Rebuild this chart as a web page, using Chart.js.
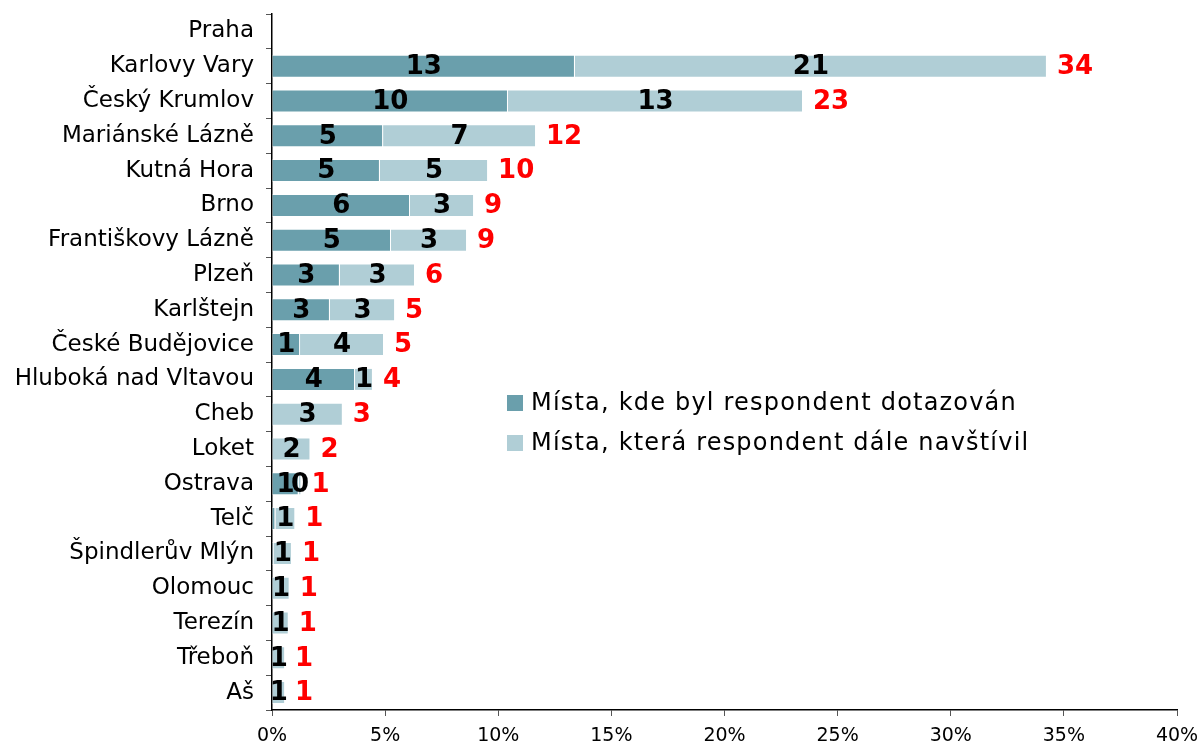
<!DOCTYPE html>
<html>
<head>
<meta charset="utf-8">
<script src="https://cdn.jsdelivr.net/npm/chart.js@4.4.1/dist/chart.umd.min.js"></script>
<style>
  html, body { margin: 0; padding: 0; background: #fff; }
  #wrap { width: 1204px; height: 745px; }
</style>
</head>
<body>
<div id="wrap"><canvas id="myChart"></canvas></div>
<script>
const places = [
  'Praha', 'Karlovy Vary', 'Český Krumlov', 'Mariánské Lázně', 'Kutná Hora',
  'Brno', 'Františkovy Lázně', 'Plzeň', 'Karlštejn', 'České Budějovice',
  'Hluboká nad Vltavou', 'Cheb', 'Loket', 'Ostrava', 'Telč',
  'Špindlerův Mlýn', 'Olomouc', 'Terezín', 'Třeboň', 'Aš'
];
// % of respondents
const surveyed = [0, 13.39, 10.43, 4.91, 4.77, 6.1, 5.26, 3.0, 2.56, 1.24, 3.67, 0, 0, 1.18, 0.15, 0.08, 0, 0, 0, 0];
const visited  = [0, 20.86, 13.04, 6.76, 4.78, 2.83, 3.36, 3.32, 2.88, 3.71, 0.79, 3.13, 1.7, 0.12, 0.88, 0.8, 0.78, 0.74, 0.58, 0.58];
const seriesNames = ['Místa, kde byl respondent dotazován', 'Místa, která respondent dále navštívil'];
const xTickValues = [0, 5, 10, 15, 20, 25, 30, 35, 40];

const FONT = '"DejaVu Sans", Verdana, sans-serif';
const DARK = '#6a9fac';
const LIGHT = '#b0ced6';

document.addEventListener('DOMContentLoaded', () => {
  const ctx = document.getElementById('myChart');

  // numbers inside the bars + red totals
  const barLabels = {
    id: 'barLabels',
    afterDatasetsDraw(chart) {
      const c = chart.ctx;
      const m0 = chart.getDatasetMeta(0), m1 = chart.getDatasetMeta(1);
      c.save();
      c.font = 'bold 26px ' + FONT;
      c.textBaseline = 'middle';
      places.forEach((p, i) => {
        const a = surveyed[i], b = visited[i];
        const e0 = m0.data[i], e1 = m1.data[i];
        c.fillStyle = '#000';
        c.textAlign = 'center';
        if (a >= 0.5) c.fillText(Math.round(a), (e0.base + e0.x) / 2, e0.y + 1);
        if (b > 0) c.fillText(Math.round(b), (e1.base + e1.x) / 2, e1.y + 1);
        if (a + b > 0) {
          c.fillStyle = '#ff0000';
          c.textAlign = 'left';
          c.fillText(Math.round(a + b), e1.x + 10, e1.y + 1);
        }
      });
      c.restore();
    }
  };

  // legend placed inside the plot
  const innerLegend = {
    id: 'innerLegend',
    afterDraw(chart) {
      const c = chart.ctx;
      const x = 507, y0 = 403, step = 40;
      c.save();
      c.font = '24px ' + FONT;
      c.letterSpacing = '1.2px';
      c.textBaseline = 'middle';
      c.textAlign = 'left';
      chart.data.datasets.forEach((ds, i) => {
        const y = y0 + i * step;
        c.fillStyle = ds.backgroundColor;
        c.fillRect(x, y - 8, 16, 16);
        c.fillStyle = '#000';
        c.fillText(ds.label, x + 24, y + 1);
      });
      c.restore();
    }
  };

  const data = {
    labels: places,
    datasets: [
      { label: seriesNames[0], data: surveyed, backgroundColor: DARK },
      { label: seriesNames[1], data: visited, backgroundColor: LIGHT }
    ]
  };

  const config = {
    type: 'bar',
    data: data,
    options: {
      indexAxis: 'y',
      responsive: true,
      maintainAspectRatio: false,
      animation: false,
      layout: { padding: { left: 0, right: 27, top: 14, bottom: 0 } },
      datasets: {
        bar: {
          barPercentage: 0.66,
          categoryPercentage: 1,
          borderColor: '#ffffff',
          borderWidth: 1,
          borderSkipped: 'start'
        }
      },
      plugins: {
        legend: { display: false },
        tooltip: { enabled: false }
      },
      scales: {
        x: {
          stacked: true,
          min: 0, max: 40,
          afterFit: (s) => { s.height = 35; s.paddingLeft = 0; s.paddingRight = 0; },
          afterBuildTicks: (s) => { s.ticks = xTickValues.map(v => ({ value: v })); },
          border: { color: '#000', width: 1.5 },
          grid: { drawOnChartArea: false, drawTicks: true, tickLength: 6, color: '#555' },
          ticks: {
            font: { family: FONT, size: 19 },
            color: '#000',
            padding: 9,
            maxRotation: 0,
            callback: (v) => v + '%'
          }
        },
        y: {
          stacked: true,
          afterFit: (s) => { s.width = 272; s.paddingTop = 0; s.paddingBottom = 0; },
          border: { color: '#000', width: 1.5 },
          grid: { offset: true, drawOnChartArea: false, drawTicks: true, tickLength: 6, color: '#555' },
          ticks: {
            font: { family: FONT, size: 23 },
            color: '#000',
            padding: 12,
            autoSkip: false
          }
        }
      }
    },
    plugins: [barLabels, innerLegend]
  };

  new Chart(ctx, config);
});
</script>
</body>
</html>
